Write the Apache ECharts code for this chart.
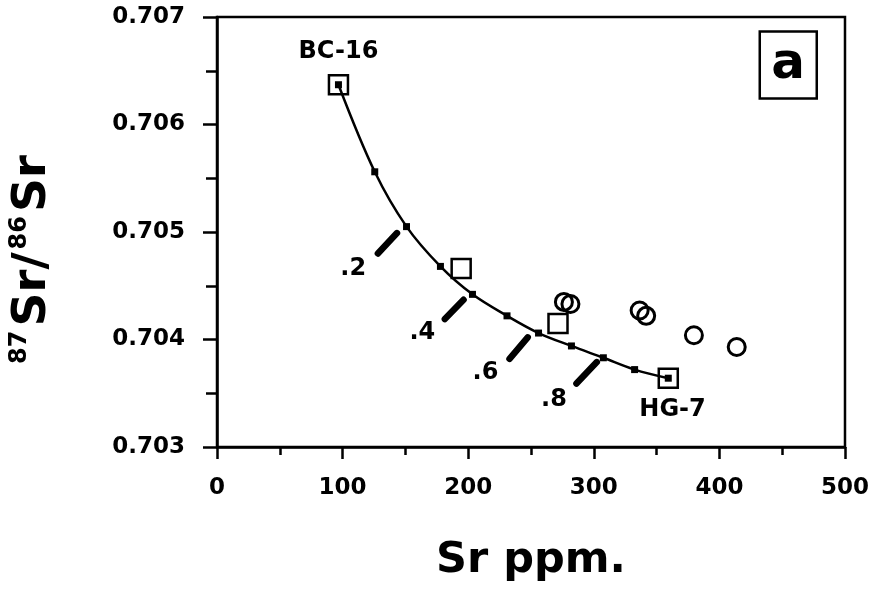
<!DOCTYPE html>
<html><head><meta charset="utf-8">
<script src="https://cdn.jsdelivr.net/npm/echarts@6/dist/echarts.min.js"></script>
<style>html,body{margin:0;padding:0;background:#fff}#c{width:872px;height:597px}</style>
</head><body><div id="c"></div>
<script>
const FONT = '"DejaVu Sans", "Liberation Sans", sans-serif';
const xTicks = [0, 100, 200, 300, 400, 500];
const yTicks = [0.703, 0.704, 0.705, 0.706, 0.707];
// mixing curve BC-16 -> HG-7 (markers every 0.1 fraction)
const curveSr = [96.7, 125.6, 150.9, 177.9, 203.4, 230.9, 256.0, 282.2, 307.6, 332.5, 359.3];
const curveRatio = [0.70637, 0.70556, 0.70505, 0.70468, 0.70442, 0.70422, 0.70406, 0.70394, 0.70383, 0.70372, 0.70364];
const endNames = ['BC-16', 'HG-7'];
const endSr = [96.7, 359.3];
const endRatio = [0.70637, 0.70364];
const endLabelSr = [96.7, 362.7];
const endLabelRatio = [0.70668, 0.70335];
const squareSr = [194.4, 271.5];
const squareRatio = [0.70466, 0.70415];
const circleSr = [276.2, 281.4, 336.5, 341.7, 379.7, 413.8];
const circleRatio = [0.70435, 0.70433, 0.70427, 0.70422, 0.70404, 0.70393];
const fracLabels = ['.2', '.4', '.6', '.8'];
const fracLabelSr = [108.5, 163.5, 213.8, 268.3];
const fracLabelRatio = [0.70466, 0.70406, 0.70369, 0.70344];
const fracTickSr = [[128.1, 143.3], [181.4, 196.3], [232.9, 247.4], [286.2, 302.4]];
const fracTickRatio = [[0.70480, 0.70499], [0.70419, 0.70437], [0.70382, 0.70402], [0.70359, 0.70379]];

const zip = (a, b) => a.map((v, i) => [v, b[i]]);
const labelStyle = {show: true, position: 'inside', formatter: '{b}', color: '#000', opacity: 1,
  fontSize: 24, fontWeight: 'bold', fontFamily: FONT, textBorderWidth: 0};

const series = [
  {type: 'scatter', data: zip(endSr, endRatio).concat(zip(squareSr, squareRatio)), symbol: 'rect', symbolSize: 19,
   itemStyle: {color: 'rgba(255,255,255,0)', borderColor: '#000', borderWidth: 2.5, opacity: 1}, z: 3},
  {type: 'scatter', data: zip(circleSr, circleRatio), symbol: 'circle', symbolSize: 17,
   itemStyle: {color: 'rgba(255,255,255,0)', borderColor: '#000', borderWidth: 3, opacity: 1}, z: 3},
  {type: 'line', data: zip(curveSr, curveRatio), smooth: 0.35, symbol: 'rect', symbolSize: 7, showSymbol: true,
   itemStyle: {color: '#000', opacity: 1}, lineStyle: {color: '#000', width: 2.5}, z: 4},
];
fracTickSr.forEach((xs, i) => {
  series.push({type: 'line', data: zip(xs, fracTickRatio[i]), symbol: 'none',
    lineStyle: {color: '#000', width: 6.5, cap: 'round'}, z: 4});
});
series.push({type: 'scatter', symbolSize: 0, label: labelStyle, itemStyle: {color: '#000', opacity: 1}, z: 5,
  data: fracLabels.map((n, i) => ({name: n, value: [fracLabelSr[i], fracLabelRatio[i]]}))});
series.push({type: 'scatter', symbolSize: 0, label: labelStyle, itemStyle: {color: '#000', opacity: 1}, z: 5,
  data: endNames.map((n, i) => ({name: n, value: [endLabelSr[i], endLabelRatio[i]]}))});

const chart = echarts.init(document.getElementById('c'));
chart.setOption({
  animation: false,
  backgroundColor: '#fff',
  title: {text: 'a', right: 55, top: 34, borderColor: '#000', borderWidth: 2.5, padding: [9, 12, 9, 12],
    textStyle: {fontSize: 50, fontWeight: 'bold', fontFamily: FONT, color: '#000', lineHeight: 44}},
  grid: {left: 217, right: 19, top: 17, bottom: 150, show: true, borderColor: '#000', borderWidth: 2.5},
  xAxis: {type: 'value', min: xTicks[0], max: xTicks[xTicks.length - 1], interval: 100,
    name: 'Sr ppm.', nameLocation: 'middle', nameGap: 92, nameMoveOverlap: false,
    nameTextStyle: {fontSize: 43, fontWeight: 'bold', fontFamily: FONT, color: '#000'},
    axisLine: {lineStyle: {color: '#000', width: 2.5}},
    axisTick: {show: true, length: 12, lineStyle: {color: '#000', width: 2.5}},
    minorTick: {show: true, splitNumber: 2, length: 8, lineStyle: {color: '#000', width: 2.5}},
    splitLine: {show: false},
    axisLabel: {margin: 30, color: '#000', fontSize: 23, fontWeight: 'bold', fontFamily: FONT}},
  yAxis: {type: 'value', min: yTicks[0], max: yTicks[yTicks.length - 1], interval: 0.001,
    name: '{s|87}{b|Sr/}{s|86}{b|Sr}', nameLocation: 'middle', nameRotate: 90, nameGap: 159, nameMoveOverlap: false,
    nameTextStyle: {padding: [0, 52, 0, 0], rich: {
      s: {fontSize: 24, fontWeight: 'bold', fontFamily: FONT, color: '#000', verticalAlign: 'top', lineHeight: 26, padding: [0, 4, 0, 0]},
      b: {fontSize: 47, fontWeight: 'bold', fontFamily: FONT, color: '#000', lineHeight: 50, padding: [0, 3, 0, 0]}}},
    axisLine: {lineStyle: {color: '#000', width: 2.5}},
    axisTick: {show: true, length: 14, lineStyle: {color: '#000', width: 2.5}},
    minorTick: {show: true, splitNumber: 2, length: 11, lineStyle: {color: '#000', width: 2.5}},
    splitLine: {show: false},
    axisLabel: {margin: 32, color: '#000', fontSize: 23, fontWeight: 'bold', fontFamily: FONT,
      formatter: v => v.toFixed(3)}},
  series: series
});
</script></body></html>
